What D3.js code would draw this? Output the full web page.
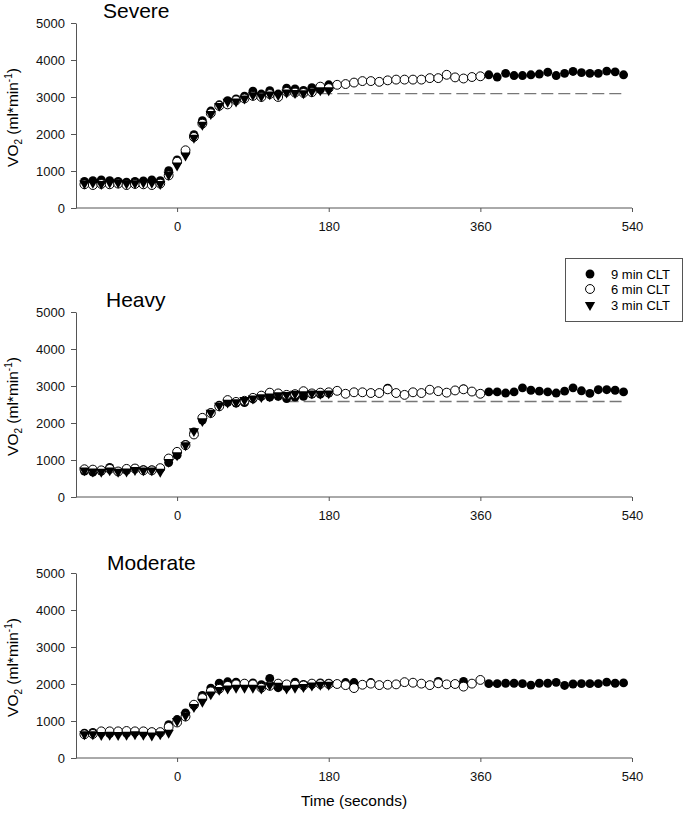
<!DOCTYPE html>
<html><head><meta charset="utf-8">
<script src="https://cdn.jsdelivr.net/npm/d3@7"></script>
<style>body{margin:0;background:#fff}svg{display:block}text{font-family:"Liberation Sans",Arial,sans-serif}</style>
</head><body><svg id="c" width="685" height="813"></svg>
<script>
const times = [-110,-100,-90,-80,-70,-60,-50,-40,-30,-20,-10,0,10,20,30,40,50,60,70,80,90,100,110,120,130,140,150,160,170,180,190,200,210,220,230,240,250,260,270,280,290,300,310,320,330,340,350,360,370,380,390,400,410,420,430,440,450,460,470,480,490,500,510,520,530];
const panels = ["Severe","Heavy","Moderate"];
const seriesNames = ["9 min CLT","6 min CLT","3 min CLT"];
const xTicks = [0,180,360,540];
const yTicks = [0,1000,2000,3000,4000,5000];
const amplitude = [3090,2580,null];
const ampStart = [170,130,null];
const ampEnd = 530;

const severe9 = [720,740,760,740,720,700,720,730,760,740,1010,1300,1500,1980,2360,2620,2790,2900,2950,3020,3160,3080,3170,3080,3240,3220,3180,3250,3200,3330,
 null,null,null,null,null,null,null,null,null,null,null,null,null,null,null,null,null,null,
 3600,3540,3640,3580,3580,3600,3620,3670,3580,3640,3690,3660,3640,3640,3700,3680,3600];
const severe6 = [640,620,650,640,660,620,650,640,620,660,880,1250,1560,1920,2280,2560,2760,2800,2910,2960,3030,3000,3080,3000,3140,3120,3110,3130,3280,3240,
 3330,3350,3390,3430,3430,3410,3450,3470,3470,3470,3470,3510,3510,3600,3530,3500,3540,3560];
const severe3 = [660,680,650,690,680,660,670,690,680,650,900,1150,1420,1900,2250,2540,2760,2870,2880,2960,3050,3020,3070,3050,3120,3110,3100,3150,3180,3180];

const heavy9 = [700,670,700,800,690,720,770,740,730,760,930,1130,1420,1760,2080,2280,2480,2560,2540,2550,2650,2720,2700,2720,2660,2700,2720,2780,2780,2810,
 null,null,null,null,null,null,2940,null,null,null,null,null,null,null,null,2920,null,null,
 2840,2840,2810,2840,2950,2885,2860,2840,2810,2860,2950,2870,2800,2900,2900,2885,2840];
const heavy6 = [750,740,720,760,690,760,770,720,720,780,1040,1220,1400,1690,2140,2270,2450,2620,2570,2600,2680,2740,2820,2800,2760,2780,2860,2800,2820,2830,
 2870,2790,2830,2830,2810,2810,2910,2810,2760,2830,2810,2900,2860,2820,2880,2910,2850,2790];
const heavy3 = [720,690,680,720,680,690,730,720,720,680,950,1130,1400,1780,2050,2280,2470,2550,2560,2620,2660,2700,2720,2750,2760,2790,2780,2800,2790,2800];

const moderate9 = [670,690,680,660,690,670,690,680,700,680,900,1040,1220,1420,1690,1890,2020,2060,2050,2000,2030,1980,2150,1900,1920,2050,1990,1990,2030,2020,
 null,2040,2040,null,2040,null,null,null,null,null,null,null,2070,null,null,2070,null,null,
 2010,2010,2020,2020,2010,1970,2020,2020,2045,1960,2000,2010,2010,2010,2050,2020,2030];
const moderate6 = [640,650,720,720,720,730,720,720,700,700,840,960,1120,1440,1620,1800,1870,1950,1990,2010,1990,1900,1950,2010,1990,1980,1960,2010,2000,2000,
 2000,1970,1890,1980,2010,1970,1980,1990,2050,2035,2010,1970,2020,1990,2000,1930,2010,2110];
const moderate3 = [640,640,620,630,620,630,640,630,610,640,680,1000,1150,1380,1520,1720,1840,1880,1900,1900,1900,1880,1970,1950,1880,1900,1920,1960,1980,1980];

const panelData = [[severe9,severe6,severe3],[heavy9,heavy6,heavy3],[moderate9,moderate6,moderate3]];

const svg = d3.select("#c");
const axisColor = "#555";
const panelTop = [23,312,573];
const panelH = 185;
const titleY = [18,307,570];
const titleX = [103,106,107];

const x = d3.scaleLinear().domain([-120,540]).range([76,632]);

const circleSym = d3.symbol().type(d3.symbolCircle).size(62);
const triSym = d3.symbol().type(d3.symbolTriangle).size(46);

function drawMarker(g, k, px, py){
  if(k===0){
    g.append("path").attr("d",circleSym()).attr("transform",`translate(${px},${py})`).attr("fill","#000");
  } else if(k===1){
    g.append("path").attr("d",circleSym()).attr("transform",`translate(${px},${py})`).attr("fill","#fff").attr("stroke","#000").attr("stroke-width",1);
  } else {
    g.append("path").attr("d",triSym()).attr("transform",`translate(${px},${py}) rotate(180)`).attr("fill","#000");
  }
}

panels.forEach((name,p)=>{
  const y = d3.scaleLinear().domain([0,5000]).range([panelTop[p]+panelH, panelTop[p]]);
  const g = svg.append("g");
  const yAxis = d3.axisLeft(y).tickValues(yTicks).tickFormat(d3.format("d")).tickSize(5).tickPadding(6).tickSizeOuter(0);
  const ga = g.append("g").attr("transform",`translate(${x(-120)},0)`).call(yAxis);
  ga.selectAll("path,line").attr("stroke",axisColor);
  ga.selectAll("text").attr("font-size",13).attr("fill","#111").attr("font-family",'"Liberation Sans",Arial,sans-serif');
  const xAxis = d3.axisBottom(x).tickValues(xTicks).tickFormat(d3.format("d")).tickSize(4).tickPadding(10).tickSizeOuter(0);
  const gx = g.append("g").attr("transform",`translate(0,${y(0)})`).call(xAxis);
  gx.select(".domain").attr("d",`M${x(-120)},0H${x(540)}`);
  gx.selectAll("path,line").attr("stroke",axisColor);
  gx.selectAll("text").attr("font-size",13).attr("fill","#111").attr("font-family",'"Liberation Sans",Arial,sans-serif');

  g.append("text").attr("x",titleX[p]).attr("y",titleY[p]).attr("font-size",21).attr("fill","#000").text(name);

  const yl = g.append("text").attr("transform",`translate(18,${panelTop[p]+panelH/2+2}) rotate(-90)`)
    .attr("text-anchor","middle").attr("font-size",15.5).attr("fill","#000");
  yl.append("tspan").text("VO");
  yl.append("tspan").attr("font-size",10).attr("dy",4).text("2");
  yl.append("tspan").attr("dy",-4).text(" (ml*min");
  yl.append("tspan").attr("font-size",10).attr("dy",-6).text("-1");
  yl.append("tspan").attr("dy",6).text(")");

  if(amplitude[p]!==null){
    g.append("line").attr("x1",x(ampStart[p])).attr("x2",x(ampEnd))
      .attr("y1",y(amplitude[p])).attr("y2",y(amplitude[p]))
      .attr("stroke","#777").attr("stroke-width",1.4).attr("stroke-dasharray","12,5");
  }

  panelData[p].forEach((vals,k)=>{
    const gm = g.append("g");
    vals.forEach((v,i)=>{
      if(v===null) return;
      drawMarker(gm,k,x(times[i]),y(v));
    });
  });
});

svg.append("text").attr("x",354).attr("y",806).attr("text-anchor","middle").attr("font-size",15.5).attr("fill","#000").text("Time (seconds)");

const lg = svg.append("g");
lg.append("rect").attr("x",565.5).attr("y",258.5).attr("width",117).attr("height",63).attr("fill","#fff").attr("stroke","#555").attr("stroke-width",1);
const legY = [274,289,305];
seriesNames.forEach((s,k)=>{
  drawMarker(lg,k,590,legY[k]);
  lg.append("text").attr("x",611).attr("y",legY[k]+4.5).attr("font-size",13).attr("fill","#000").text(s);
});
</script></body></html>
